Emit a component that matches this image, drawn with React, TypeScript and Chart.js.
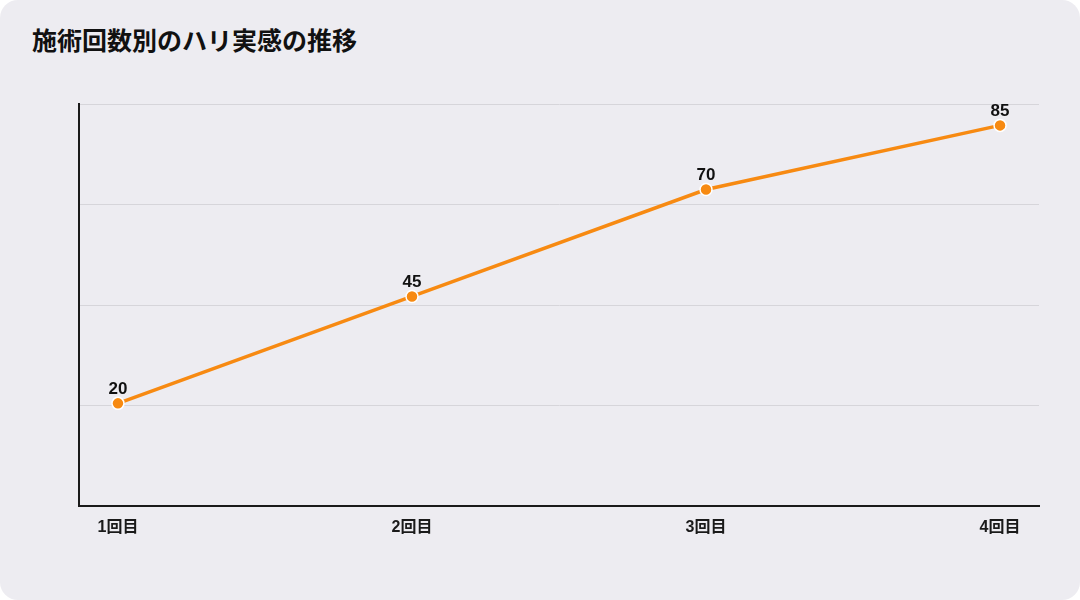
import Chart from "chart.js/auto";
import { useEffect, useRef } from "react";

const title = "施術回数別のハリ実感の推移";
const categories = ["1回目", "2回目", "3回目", "4回目"];
const values = [20, 45, 70, 85];

const FONT = '"Liberation Sans", "Noto Sans CJK JP", sans-serif';
const ORANGE = "#F78A12";

// draws the value above each point
const valueLabels = {
  id: "valueLabels",
  afterDatasetsDraw(chart: any) {
    const ctx = chart.ctx;
    const meta = chart.getDatasetMeta(0);
    ctx.save();
    ctx.font = `bold 17px ${FONT}`;
    ctx.fillStyle = "#111";
    ctx.textAlign = "center";
    ctx.textBaseline = "middle";
    meta.data.forEach((pt: any, i: number) => {
      ctx.fillText(String(values[i]), pt.x, pt.y - 14);
    });
    ctx.restore();
  },
};

export default function App() {
  const chartRef = useRef<HTMLCanvasElement>(null);

  useEffect(() => {
    document.body.style.margin = "0";
    if (!chartRef.current) return;

    const chart = new Chart(chartRef.current, {
      type: "line",
      data: {
        datasets: [
          {
            data: values.map((v, i) => ({ x: i, y: v })),
            borderColor: ORANGE,
            borderWidth: 3.5,
            backgroundColor: ORANGE,
            pointBackgroundColor: ORANGE,
            pointBorderColor: "#ffffff",
            pointBorderWidth: 1.5,
            pointRadius: 6,
            tension: 0,
          },
        ],
      },
      options: {
        animation: false,
        responsive: false,
        maintainAspectRatio: false,
        layout: { padding: { top: 104, right: 41, left: 0, bottom: 0 } },
        plugins: { legend: { display: false }, tooltip: { enabled: false } },
        scales: {
          x: {
            type: "linear",
            min: -0.1325,
            max: 3.1325,
            afterBuildTicks: (scale: any) => {
              scale.ticks = categories.map((_, i) => ({ value: i }));
            },
            afterFit: (scale: any) => {
              scale.height = 94;
            },
            ticks: {
              callback: (v: any) => categories[v] ?? "",
              font: { family: FONT, size: 16, weight: "bold" },
              color: "#1a1a1a",
              padding: 12,
              maxRotation: 0,
            },
            grid: { display: false, drawTicks: false },
            border: { display: true, color: "#1a1a1a", width: 2 },
          },
          y: {
            min: -4,
            max: 90,
            afterBuildTicks: (scale: any) => {
              const step = (90 - -4) / 4;
              scale.ticks = [0, 1, 2, 3, 4].map((k) => ({ value: -4 + k * step }));
            },
            afterFit: (scale: any) => {
              scale.width = 79;
            },
            ticks: { display: false },
            grid: {
              color: (c: any) => (c.index === 0 ? "rgba(0,0,0,0)" : "#D6D5DA"),
              lineWidth: 1,
              drawTicks: false,
            },
            border: { display: true, color: "#1a1a1a", width: 2 },
          },
        },
      },
      plugins: [valueLabels],
    });

    return () => {
      chart.destroy();
    };
  }, []);

  return (
    <div
      style={{
        position: "relative",
        width: 1080,
        height: 600,
        background: "#EDECF1",
        borderRadius: 18,
        overflow: "hidden",
      }}
    >
      <div
        style={{
          position: "absolute",
          left: 32,
          top: 21,
          fontFamily: '"Noto Sans CJK JP", sans-serif',
          fontWeight: 700,
          fontSize: 25,
          color: "#111",
          lineHeight: "36px",
        }}
      >
        {title}
      </div>
      <canvas
        ref={chartRef}
        width={1080}
        height={600}
        style={{ position: "absolute", left: 0, top: 0 }}
      ></canvas>
    </div>
  );
}
